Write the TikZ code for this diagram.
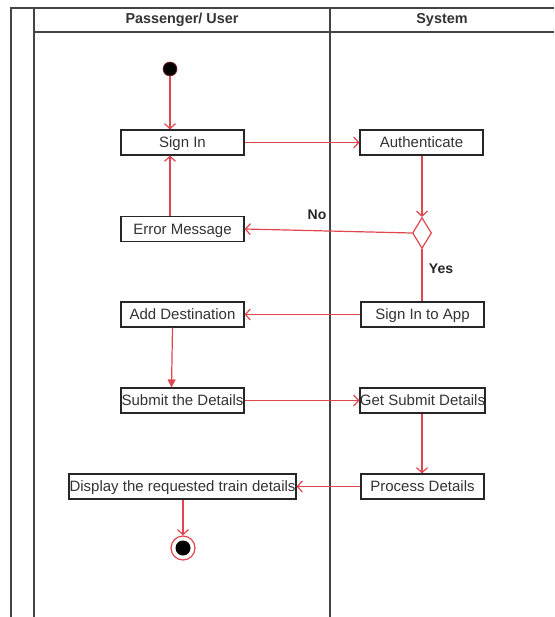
\documentclass[tikz,border=0pt]{standalone}
\usepackage{fontspec}
\setmainfont{Liberation Sans}
\usetikzlibrary{arrows.meta,shapes.geometric}
\definecolor{flow}{HTML}{E0464F}
\definecolor{ink}{HTML}{333333}
\definecolor{lane}{HTML}{444444}
\tikzset{
  act/.style={draw=black!85, line width=1.1pt, fill=white, text=ink,
    minimum height=25pt, inner sep=0pt, text height=10.7pt, text depth=0pt,
    font=\fontsize{15}{17}\selectfont},
  flowline/.style={draw=flow, line width=1.2pt},
  openarr/.style={flowline, -{Straight Barb[length=5pt,width=11pt,line width=1.2pt]}},
  fillarr/.style={flowline, -{Triangle[length=8pt,width=8pt]}},
  laneline/.style={draw=lane, line width=1.3pt},
  guard/.style={font=\bfseries\fontsize{14}{16}\selectfont, text=black!85},
  lanehead/.style={font=\bfseries\fontsize{14.4}{16}\selectfont, text=ink}
}
\begin{document}
\begin{tikzpicture}[x=1pt,y=-1pt]
\useasboundingbox (0,0) rectangle (554,617);
\fill[white] (0,0) rectangle (554,617);

% swimlane frame
\draw[laneline] (11,617) -- (11,8) -- (554,8);
\draw[laneline] (34,8) -- (34,617);
\draw[laneline] (34,32) -- (554,32);
\draw[laneline] (330,8) -- (330,617);
\node[lanehead] (hpass) at (182,20) {Passenger/ User};
\node[lanehead] (hsys) at (442,20) {System};

% activities
\node[act, minimum width=123pt] (signin)  at (182.5,142.5) {Sign In};
\node[act, minimum width=123pt] (auth)    at (421.5,142.5) {Authenticate};
\node[act, minimum width=123pt] (err)     at (182.5,229)   {Error Message};
\node[draw=flow, line width=1.2pt, fill=white, shape=diamond, inner sep=0pt,
      minimum width=19pt, minimum height=31pt] (dec) at (422,233) {};
\node[act, minimum width=123pt] (app)     at (422.5,314.5) {Sign In to App};
\node[act, minimum width=123pt] (dest)    at (182.5,314.5) {Add Destination};
\node[act, minimum width=123pt] (submit)  at (182.5,400.5) {Submit the Details};
\node[act, minimum width=123pt] (getsub)  at (422.5,400.5) {Get Submit Details};
\node[act, minimum width=123pt] (proc)    at (422.5,486.5) {Process Details};
\node[act, minimum width=227pt] (disp)    at (182.5,486.5) {Display the requested train details};

% start and end states
\node[circle, fill=black, draw=flow!60!black, line width=0.6pt,
      minimum size=14pt, inner sep=0pt] (start) at (170,69) {};
\node[circle, draw=flow, line width=1.2pt, fill=white,
      minimum size=24pt, inner sep=0pt] (finish) at (183,548) {};
\node[circle, fill=black, minimum size=15pt, inner sep=0pt] (finishdot) at (finish) {};

% control flow
\draw[openarr] (start) -- (start |- signin.north);
\draw[openarr] (signin) -- (auth);
\draw[openarr] (auth.south -| dec) -- (dec.north);
\draw[openarr] (dec.west) -- (err.east);
\draw[openarr] (err.north -| start) -- (signin.south -| start);
\draw[flowline] (dec.south) -- (app.north -| dec);
\draw[openarr] (app) -- (dest);
\draw[fillarr] ([xshift=-10pt]dest.south) -- ([xshift=-11pt]submit.north);
\draw[openarr] (submit) -- (getsub);
\draw[openarr] (getsub.south -| dec) -- (proc.north -| dec);
\draw[openarr] (proc) -- (disp);
\draw[openarr] (disp.south -| finish) -- (finish.north);

% guards
\node[guard] (gno)  at (317,215) {No};
\node[guard] (gyes) at (441,269) {Yes};
\end{tikzpicture}
\end{document}
